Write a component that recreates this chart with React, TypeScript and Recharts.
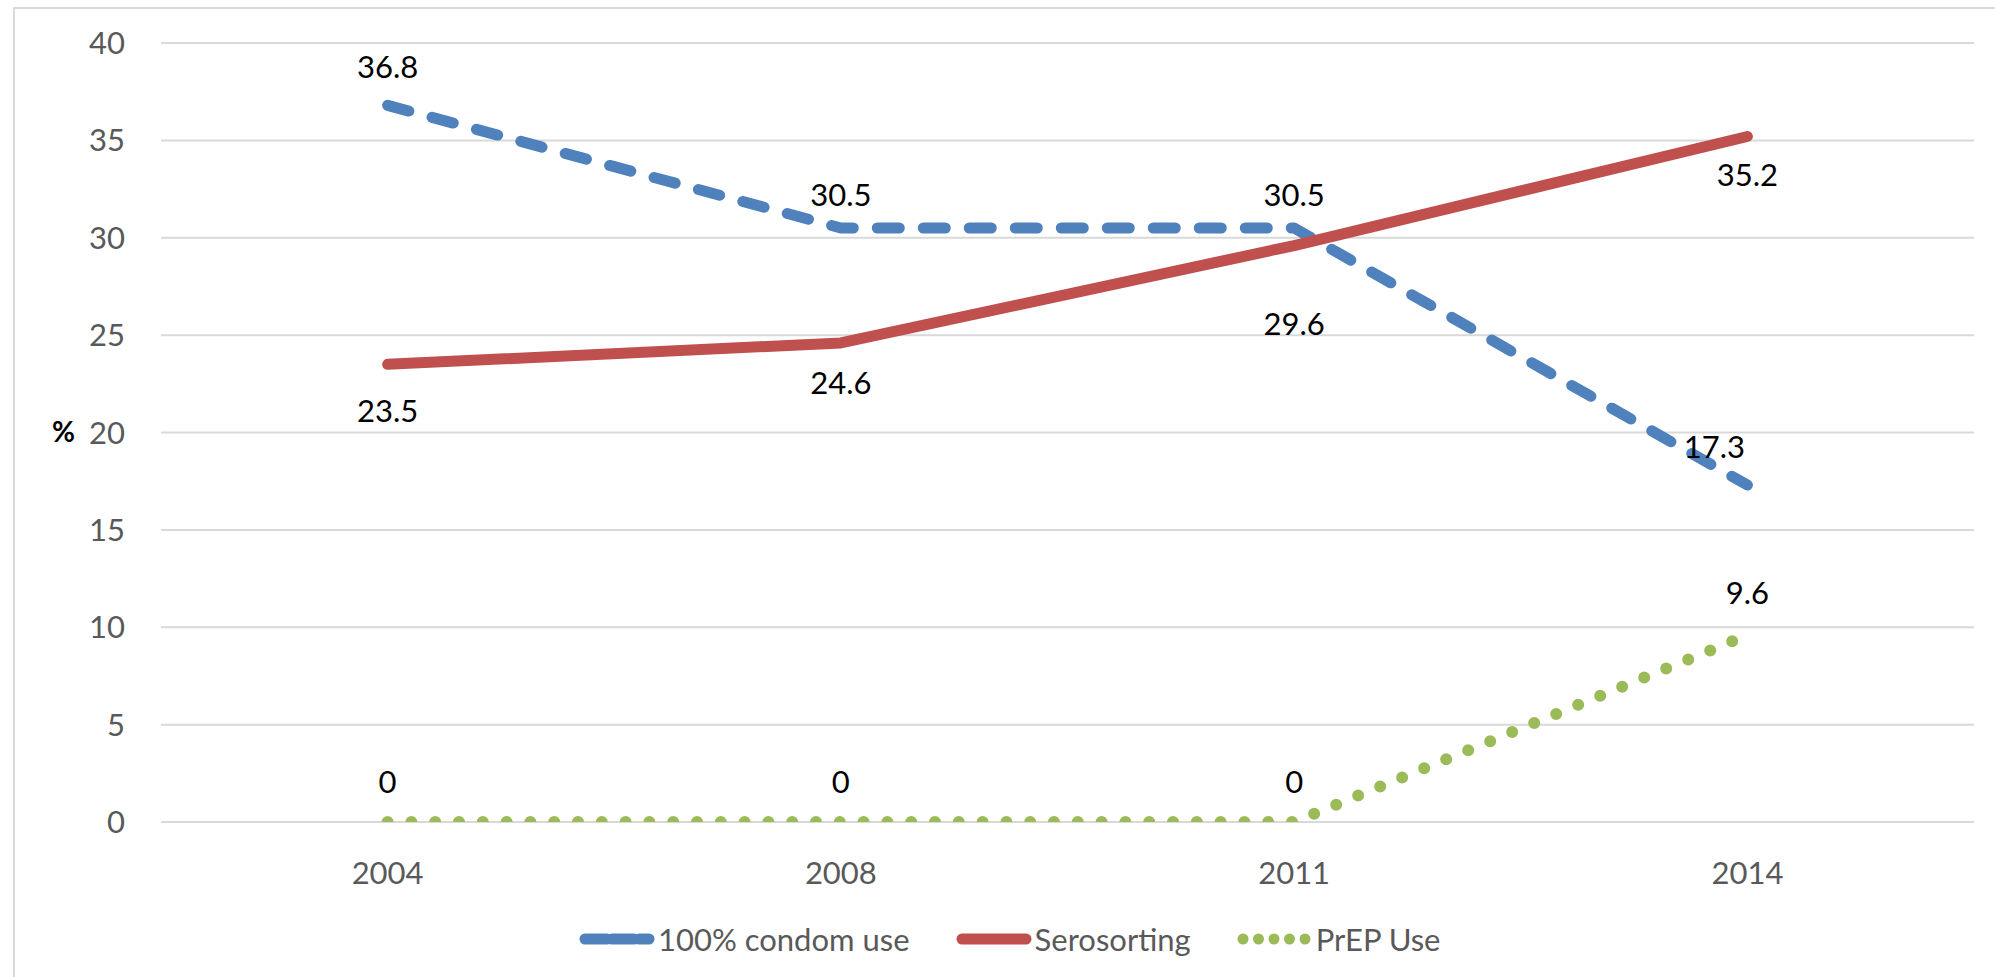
import { LineChart, Line, XAxis, YAxis, CartesianGrid, Legend, LabelList } from 'recharts'

const years = ['2004', '2008', '2011', '2014']
const condomUse = [36.8, 30.5, 30.5, 17.3]
const serosorting = [23.5, 24.6, 29.6, 35.2]
const prepUse = [0, 0, 0, 9.6]
const yTicks = [0, 5, 10, 15, 20, 25, 30, 35, 40]
const legendOrder = ['condom', 'sero', 'prep']

const chartData = years.map((year, i) => ({
  year,
  condom: condomUse[i],
  sero: serosorting[i],
  prep: prepUse[i],
}))

const FONT = 'Lato, "Open Sans", sans-serif'
const BLUE = '#4F81BD'
const RED = '#C0504D'
const GREEN = '#9BBB59'
const GREY_TEXT = '#595959'

// dash patterns for the lines and for their legend icons
const lineDash: Record<string, string> = {
  condom: '22 24',
  sero: '',
  prep: '0 23.8',
}
const iconDash: Record<string, string> = {
  condom: '22 5',
  sero: '',
  prep: '0 15.5',
}

// data label drawn above or below the point, with small per-point nudges
function pointLabel(side: 'above' | 'below', nudges: number[][] = []) {
  return (props: any) => {
    const { x, y, value, index } = props
    const [dx, dy] = nudges[index] || [0, 0]
    const cy = side === 'above' ? y - 39 : y + 41
    return (
      <text
        x={x + dx}
        y={cy + dy}
        textAnchor="middle"
        dominantBaseline="central"
        fontSize={31}
        fontFamily={FONT}
        fill="#000"
      >
        {value}
      </text>
    )
  }
}

function LegendContent(props: any) {
  const { payload = [] } = props
  const items = [...payload].sort(
    (a: any, b: any) => legendOrder.indexOf(a.dataKey) - legendOrder.indexOf(b.dataKey)
  )
  return (
    <div
      style={{
        display: 'flex',
        alignItems: 'center',
        height: 40,
        paddingLeft: 579,
        fontFamily: FONT,
        fontSize: 31,
        color: GREY_TEXT,
      }}
    >
      {items.map((entry: any) => (
        <div
          key={entry.dataKey}
          style={{ display: 'flex', alignItems: 'center', marginRight: 46 }}
        >
          <svg width={76} height={14}>
            <line
              x1={6}
              y1={7}
              x2={70}
              y2={7}
              stroke={entry.color}
              strokeWidth={entry.dataKey === 'prep' ? 11 : 11}
              strokeLinecap="round"
              strokeDasharray={iconDash[entry.dataKey] || undefined}
            />
          </svg>
          <span style={{ marginLeft: 3 }}>{entry.value}</span>
        </div>
      ))}
    </div>
  )
}

export default function App() {
  return (
    <div
      style={{
        position: 'absolute',
        left: 0,
        top: 0,
        width: 1995,
        height: 977,
        overflow: 'hidden',
        background: '#fff',
      }}
    >
      <div
        style={{
          position: 'absolute',
          left: 13,
          top: 7,
          width: 2100,
          height: 1100,
          border: '2px solid #D9D9D9',
        }}
      />
      <div style={{ position: 'absolute', left: 0, top: 0 }}>
        <LineChart
          width={1995}
          height={977}
          data={chartData}
          margin={{ top: 43, right: 21, bottom: 18, left: 0 }}
        >
          <CartesianGrid vertical={false} stroke="#D9D9D9" strokeWidth={2} />
          <XAxis
            dataKey="year"
            axisLine={false}
            tickLine={false}
            tickSize={0}
            tickMargin={40}
            height={97}
            padding={{ left: 226.6, right: 226.6 }}
            tick={{ fill: GREY_TEXT, fontSize: 31, fontFamily: FONT }}
          />
          <YAxis
            domain={[0, 40]}
            ticks={yTicks}
            allowDataOverflow
            width={161}
            axisLine={false}
            tickLine={false}
            tickSize={0}
            tickMargin={36}
            tick={{ fill: GREY_TEXT, fontSize: 31, fontFamily: FONT }}
            label={{
              value: '%',
              position: 'insideLeft',
              offset: 52,
              fill: '#000',
              fontSize: 28,
              fontWeight: 'bold',
              fontFamily: FONT,
            }}
          />
          <Legend verticalAlign="bottom" content={<LegendContent />} />
          <Line
            dataKey="condom"
            name="100% condom use"
            stroke={BLUE}
            strokeWidth={11}
            strokeLinecap="round"
            strokeLinejoin="round"
            strokeDasharray={lineDash.condom}
            type="linear"
            dot={false}
            activeDot={false}
            isAnimationActive={false}
          >
            <LabelList
              dataKey="condom"
              content={pointLabel('above', [[0, 0], [0, 5], [0, 5], [-33, 0]])}
            />
          </Line>
          <Line
            dataKey="sero"
            name="Serosorting"
            stroke={RED}
            strokeWidth={11}
            strokeLinecap="round"
            strokeLinejoin="round"
            type="linear"
            dot={false}
            activeDot={false}
            isAnimationActive={false}
          >
            <LabelList
              dataKey="sero"
              content={pointLabel('below', [[0, 5], [0, -2], [0, 36], [0, -3]])}
            />
          </Line>
          <Line
            dataKey="prep"
            name="PrEP Use"
            stroke={GREEN}
            strokeWidth={12}
            strokeLinecap="round"
            strokeLinejoin="round"
            strokeDasharray={lineDash.prep}
            type="linear"
            dot={false}
            activeDot={false}
            isAnimationActive={false}
          >
            <LabelList
              dataKey="prep"
              content={pointLabel('above', [[0, -2], [0, -2], [0, -2], [0, -4]])}
            />
          </Line>
        </LineChart>
      </div>
    </div>
  )
}
